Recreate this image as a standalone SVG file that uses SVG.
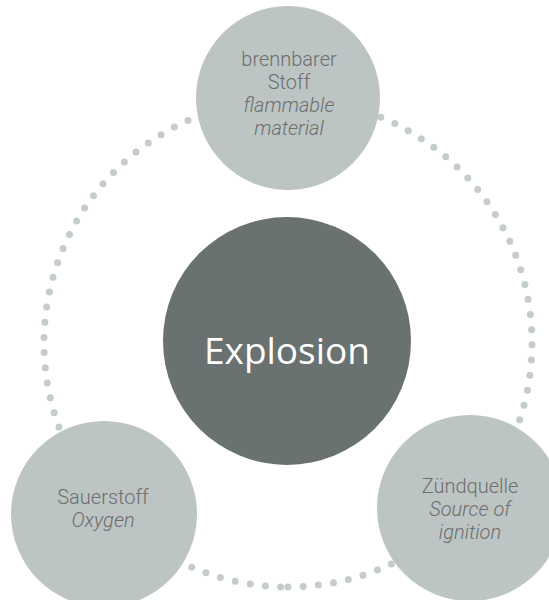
<svg xmlns="http://www.w3.org/2000/svg" width="549" height="600" viewBox="0 0 549 600">
  <style>
    .node { fill: #bcc5c4; }
    .core { fill: #697171; }
    .lbl { font-family: Roboto, "Liberation Sans", sans-serif; font-weight: 300; font-size: 20px; fill: #6e6e6e; text-anchor: middle; }
    .it { font-style: italic; }
    .big { font-family: "Open Sans", "Noto Sans", sans-serif; font-size: 37px; fill: #ffffff; text-anchor: middle; }
    .ring { fill: none; stroke: #c5cccc; stroke-width: 7; stroke-linecap: round; stroke-dasharray: 0 15.25; }
  </style>
  <rect width="549" height="600" fill="#ffffff"/>
  <g id="connectors">
    <path class="ring" d="M288,587 A244,244 0 1,0 288,99 A244,244 0 1,0 288,587"/>
  </g>
  <g id="explosion">
    <circle class="core" cx="287" cy="341" r="124"/>
    <text class="big" x="287" y="364">Explosion</text>
  </g>
  <g id="flammable">
    <circle class="node" cx="288" cy="98" r="92"/>
    <text class="lbl" x="289" y="66">brennbarer</text>
    <text class="lbl" x="289" y="89">Stoff</text>
    <text class="lbl it" x="289" y="112">flammable</text>
    <text class="lbl it" x="289" y="135">material</text>
  </g>
  <g id="oxygen">
    <circle class="node" cx="104" cy="514" r="93"/>
    <text class="lbl" x="103" y="504">Sauerstoff</text>
    <text class="lbl it" x="103" y="527">Oxygen</text>
  </g>
  <g id="ignition">
    <circle class="node" cx="470" cy="508" r="93"/>
    <text class="lbl" x="470" y="493">Zündquelle</text>
    <text class="lbl it" x="470" y="516">Source of</text>
    <text class="lbl it" x="470" y="539">ignition</text>
  </g>
</svg>
